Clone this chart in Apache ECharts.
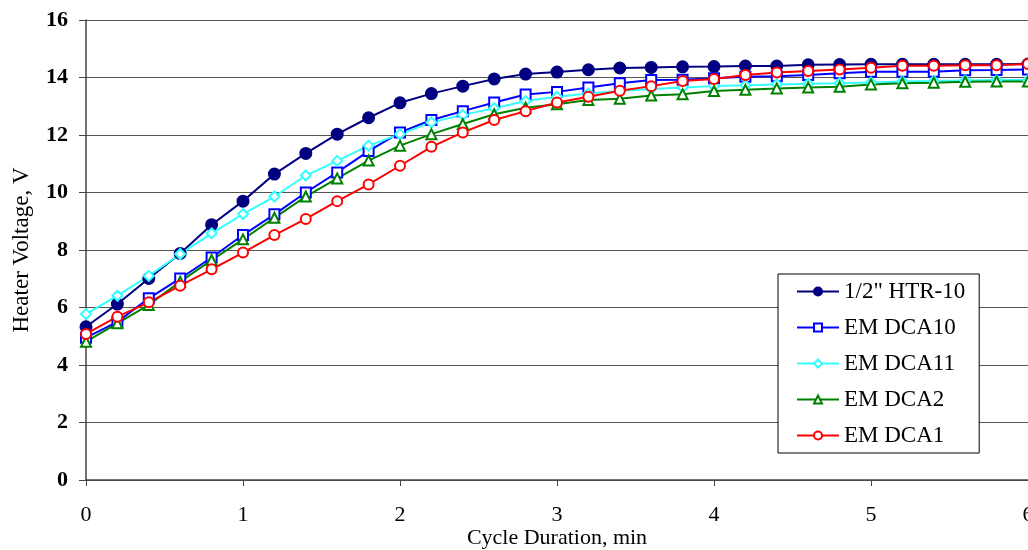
<!DOCTYPE html>
<html>
<head>
<meta charset="utf-8">
<script src="https://cdn.jsdelivr.net/npm/echarts@6/dist/echarts.min.js"></script>
<style>html,body{margin:0;padding:0;background:#fff}#c{width:1028px;height:550px}</style>
</head>
<body>
<div id="c"></div>
<script>
const times = [0,0.2,0.4,0.6,0.8,1.0,1.2,1.4,1.6,1.8,2.0,2.2,2.4,2.6,2.8,3.0,3.2,3.4,3.6,3.8,4.0,4.2,4.4,4.6,4.8,5.0,5.2,5.4,5.6,5.8,6.0];
const htr10 = [5.33,6.12,7.01,7.88,8.88,9.70,10.64,11.36,12.03,12.60,13.12,13.44,13.70,13.95,14.12,14.19,14.27,14.33,14.35,14.37,14.38,14.40,14.40,14.44,14.45,14.46,14.46,14.46,14.46,14.46,14.47];
const dca10 = [4.95,5.50,6.32,7.01,7.74,8.52,9.24,10.0,10.70,11.44,12.09,12.52,12.83,13.13,13.41,13.50,13.65,13.80,13.91,13.92,13.97,14.03,14.04,14.09,14.15,14.20,14.20,14.20,14.25,14.26,14.28];
const dca11 = [5.77,6.41,7.10,7.86,8.58,9.25,9.86,10.59,11.10,11.63,12.03,12.44,12.70,12.93,13.18,13.33,13.44,13.53,13.60,13.65,13.70,13.73,13.76,13.78,13.80,13.83,13.86,13.88,13.90,13.91,13.91];
const dca2 = [4.81,5.45,6.09,6.90,7.65,8.37,9.12,9.86,10.49,11.11,11.63,12.03,12.38,12.72,12.95,13.07,13.22,13.26,13.37,13.42,13.53,13.57,13.62,13.65,13.68,13.76,13.80,13.82,13.85,13.86,13.86];
const dca1 = [5.08,5.68,6.18,6.76,7.33,7.91,8.52,9.08,9.70,10.28,10.93,11.59,12.09,12.52,12.83,13.13,13.33,13.54,13.70,13.88,13.95,14.09,14.17,14.23,14.28,14.34,14.41,14.41,14.43,14.43,14.47];
const names = ['1/2" HTR-10','EM DCA10','EM DCA11','EM DCA2','EM DCA1'];
const yTicks = [0,2,4,6,8,10,12,14,16];
const xTicks = [0,1,2,3,4,5,6];

const pair = arr => times.map((t,i)=>[t,arr[i]]);
const font = '"Liberation Serif","DejaVu Serif",serif';
function mk(name, data, color, symbol, filled, size){
  return {
    name, type:'line', data: pair(data), symbol, symbolSize:size,
    showSymbol:true, clip:false,
    lineStyle:{color, width:2},
    itemStyle:{color: filled?color:'#fff', borderColor:color, borderWidth:2},
    emphasis:{disabled:true}, animation:false
  };
}
const chart = echarts.init(document.getElementById('c'));
chart.setOption({
  animation:false,
  backgroundColor:'#fff',
  grid:{left:86,right:0,top:20,bottom:70,containLabel:false,outerBoundsMode:'none'},
  legend:{
    orient:'vertical', left:778, top:274,
    padding:[6,14,6,18], itemGap:13, itemWidth:42, itemHeight:10,
    backgroundColor:'#fff', borderColor:'#000', borderWidth:1,
    textStyle:{fontFamily:font, fontSize:23, color:'#000'},
    data:names.map(n=>({name:n}))
  },
  xAxis:{
    type:'value', min:0, max:6, interval:1,
    name:'Cycle Duration, min', nameLocation:'middle', nameGap:47, nameMoveOverlap:false,
    nameTextStyle:{fontFamily:font, fontSize:22, color:'#000'},
    axisLine:{show:true, onZero:false, lineStyle:{color:'#444', width:1.5}},
    axisTick:{show:true, length:6, inside:false, lineStyle:{color:'#444'}},
    axisLabel:{fontFamily:font, fontSize:22, color:'#000', margin:24,
      formatter:v=>xTicks.includes(v)?String(v):''},
    splitLine:{show:false}
  },
  yAxis:{
    type:'value', min:0, max:16, interval:2,
    name:'Heater Voltage, V', nameLocation:'middle', nameGap:53, nameRotate:90, nameMoveOverlap:false,
    nameTextStyle:{fontFamily:font, fontSize:23, color:'#000'},
    axisLine:{show:true, lineStyle:{color:'#444', width:1.5}},
    axisTick:{show:true, length:7, inside:false, lineStyle:{color:'#444'}},
    axisLabel:{fontFamily:font, fontSize:22, fontWeight:'bold', color:'#000', margin:18,
      formatter:v=>yTicks.includes(v)?String(v):''},
    splitLine:{show:true, lineStyle:{color:'#555', width:1}}
  },
  series:[
    mk(names[0], htr10, '#000080', 'circle', true, 11),
    mk(names[1], dca10, '#0000ff', 'rect', false, 10),
    mk(names[2], dca11, '#33ffff', 'diamond', false, 10),
    mk(names[3], dca2, '#008000', 'triangle', false, 10),
    mk(names[4], dca1, '#ff0000', 'circle', false, 10)
  ]
});
</script>
</body>
</html>
